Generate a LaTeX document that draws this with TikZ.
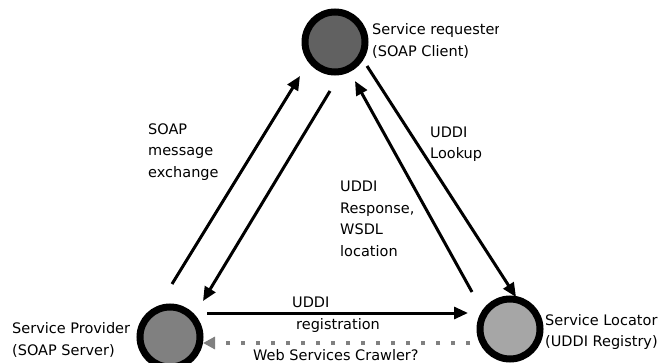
\documentclass[tikz,border=0pt]{standalone}
\usepackage{fontspec}
\setmainfont{DejaVu Sans}
\usetikzlibrary{arrows.meta,positioning}

\begin{document}
\begin{tikzpicture}[x=1pt,y=-1pt,
  every node/.style={font=\fontsize{14.5}{21.5}\selectfont,inner sep=0pt},
  party/.style={circle,draw=black,line width=7pt,minimum size=60pt},
  msg/.style={line width=3pt,-{Triangle[length=14pt,width=12pt]}},
  crawl/.style={line width=4pt,draw=gray,dash pattern=on 4pt off 11pt,
    -{Triangle[length=12pt,width=12pt,fill=gray,color=gray]}},
  lbl/.style={align=left,anchor=west}]
\useasboundingbox (0,0) rectangle (660,363);
% labels of the parties (the circles sit over them)
\begin{scope}
  \clip (372,15) rectangle (498,65);
  \node[lbl] (treq) at (372,41) {Service requester\\(SOAP Client)};
\end{scope}
\node[lbl] (tprov) at (12,340) {Service Provider\\(SOAP Server)};
\node[lbl] (tloc) at (545,332) {Service Locator\\(UDDI Registry)};
% the three parties
\node[party,fill=black!62] (req) at (335,42) {};
\node[party,fill=black!50] (prov) at (170,337) {};
\node[party,fill=black!35] (loc) at (510,329) {};
% end points of the messages
\coordinate (s1) at (172,284); \coordinate (e1) at (300,76);
\coordinate (s2) at (330,91);  \coordinate (e2) at (203,301);
\coordinate (s3) at (472,292); \coordinate (e3) at (355,81);
\coordinate (s4) at (367,66);  \coordinate (e4) at (516,297);
\coordinate (s5) at (207,313); \coordinate (e5) at (468,313);
\coordinate (s6) at (470,343); \coordinate (e6) at (203,343);
\draw[msg] (s1)--(e1);
\draw[msg] (s2)--(e2);
\draw[msg] (s3)--(e3);
\draw[msg] (s4)--(e4);
\draw[msg] (s5)--(e5);
\draw[crawl] (s6)--(e6);
% message labels
\node[lbl] (tsoap) at (148,152) {SOAP\\message\\exchange};
\node[lbl] (tlook) at (430,144) {UDDI\\Lookup};
\node[lbl] (tresp) at (340,219) {UDDI\\Response,\\WSDL\\location};
\node[anchor=west] (tuddi) at (292,302) {UDDI};
\node[anchor=west] (treg) at (296,325) {registration};
\node[anchor=west] (tcrawl) at (253,355) {Web Services Crawler?};
\end{tikzpicture}
\end{document}
